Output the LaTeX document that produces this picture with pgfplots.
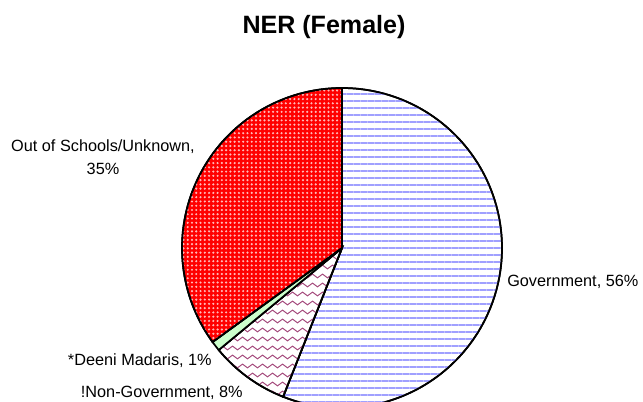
\documentclass[border=0pt]{standalone}
\usepackage{pgfplots}
\pgfplotsset{compat=1.18}
\usepackage{fontspec}
\setmainfont{Liberation Sans}
\usetikzlibrary{patterns.meta}

\definecolor{govblue}{RGB}{160,160,255}
\definecolor{plum}{RGB}{165,75,125}
\definecolor{lgreen}{RGB}{204,255,204}
\definecolor{pinkdot}{RGB}{255,185,185}

\tikzdeclarepattern{
  name=wavy,
  type=uncolored,
  bottom left={(0pt,-3.375pt)},
  top right={(7.5pt,3.375pt)},
  tile size={(7.5pt,6.75pt)},
  code={\draw[line width=0.75pt] (0,0) sin (1.875pt,1.4pt) cos (3.75pt,0) sin (5.625pt,-1.4pt) cos (7.5pt,0);}
}

% slice values (percent), clockwise from 12 o'clock
\def\vGov{56}
\def\vNon{8}
\def\vDeeni{1}
\def\vOut{35}

\begin{document}
\begin{tikzpicture}
\pgfmathsetmacro\aA{90}
\pgfmathsetmacro\aB{90-3.6*\vGov}
\pgfmathsetmacro\aC{\aB-3.6*\vNon}
\pgfmathsetmacro\aD{\aC-3.6*\vDeeni}
\pgfmathsetmacro\aE{\aD-3.6*\vOut}
\path[use as bounding box] (0,0) rectangle (482.25pt,-301.5pt);
\begin{axis}[at={(256.5pt,-186pt)}, anchor=origin, x=120pt, y=120pt,
  xmin=-1.05, xmax=1.05, ymin=-1.05, ymax=1.05, hide axis, clip=false,
  samples=120, variable=\t]
\addplot[draw=black, line width=1.3pt, fill=white,
  postaction={pattern={Lines[angle=0,distance=5.25pt,line width=1.5pt]}, pattern color=govblue},
  domain=\aB:\aA] ({cos(t)},{sin(t)}) -- (axis cs:0,0) -- cycle;
\addplot[draw=black, line width=1.3pt, fill=white,
  postaction={pattern=wavy, pattern color=plum},
  domain=\aC:\aB] ({cos(t)},{sin(t)}) -- (axis cs:0,0) -- cycle;
\addplot[draw=black, line width=1.3pt, fill=lgreen,
  domain=\aD:\aC] ({cos(t)},{sin(t)}) -- (axis cs:0,0) -- cycle;
\addplot[draw=black, line width=1.3pt, fill=red,
  postaction={pattern={Dots[distance=3.2pt,radius=0.9pt]}, pattern color=pinkdot},
  domain=\aE:\aD] ({cos(t)},{sin(t)}) -- (axis cs:0,0) -- cycle;
\end{axis}
\begin{scope}[x=0.75pt,y=-0.75pt, every node/.style={inner sep=0pt, font=\fontsize{12.2}{14}\selectfont}]
\node[anchor=base, font=\fontsize{18.8}{22}\selectfont\bfseries] at (324,34) {NER (Female)};
\node[anchor=base west] at (507,287) {Government, 56\%};
\node[anchor=base] at (103,152) {Out of Schools/Unknown,};
\node[anchor=base] at (103,175) {35\%};
\node[anchor=base east] at (212,366) {*Deeni Madaris, 1\%};
\node[anchor=base east] at (243,398) {!Non-Government, 8\%};
\end{scope}
\end{tikzpicture}
\end{document}
